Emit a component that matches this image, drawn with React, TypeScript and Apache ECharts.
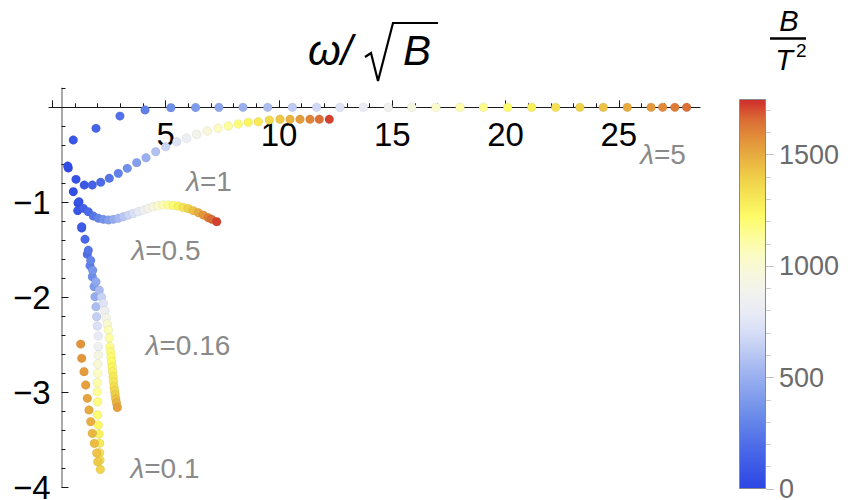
import React, { useEffect, useRef } from 'react';
import * as echarts from 'echarts';

const FONT = '"Liberation Sans", Arial, Helvetica, sans-serif';

// ---- data: x = ω/√B, y, v = B/T² ----
const X_L5 = [0.675, 0.922, 1.924, 2.98, 4.09, 5.23, 6.32, 7.35, 8.41, 9.5, 10.59, 11.66, 12.69, 13.72, 14.82, 15.86, 16.93, 17.99, 19.02, 20.09, 21.15, 22.21, 23.28, 24.31, 25.37, 26.42, 26.93, 27.47, 27.99];
const Y_L5 = [-0.618, -0.344, -0.221, -0.092, -0.028, -0.004, -0.002, -0.001, 0, 0, 0, 0, 0, 0, 0, 0, 0, 0, 0, 0, 0, 0, 0, 0, 0, 0, 0, 0, 0];
const V_L5 = [30, 80, 150, 220, 280, 340, 400, 450, 500, 560, 620, 680, 740, 800, 880, 950, 1030, 1100, 1160, 1220, 1280, 1330, 1390, 1440, 1500, 1550, 1590, 1620, 1650];

const X_L1 = [0.702, 1.041, 1.408, 1.761, 2.132, 2.511, 2.908, 3.305, 3.72, 4.131, 4.559, 5.0, 5.486, 5.927, 6.368, 6.836, 7.308, 7.763, 8.204, 8.645, 9.086, 9.572, 10.044, 10.486, 10.927, 11.368, 11.779, 12.22];
const Y_L1 = [-0.639, -0.758, -0.818, -0.818, -0.789, -0.747, -0.695, -0.642, -0.583, -0.531, -0.467, -0.415, -0.362, -0.326, -0.284, -0.249, -0.221, -0.197, -0.176, -0.158, -0.152, -0.134, -0.126, -0.126, -0.126, -0.126, -0.126, -0.126];
const V_L1 = [30, 60, 100, 140, 180, 230, 290, 350, 420, 500, 580, 660, 740, 820, 900, 980, 1060, 1130, 1190, 1250, 1300, 1360, 1420, 1480, 1540, 1600, 1650, 1720];

const X_L05 = [0.922, 1.117, 1.364, 1.584, 1.805, 2.026, 2.246, 2.467, 2.688, 2.908, 3.129, 3.35, 3.571, 3.791, 4.011, 4.232, 4.453, 4.673, 4.894, 5.115, 5.335, 5.556, 5.777, 5.997, 6.218, 6.439, 6.659, 6.88, 7.03, 7.251];
const Y_L05 = [-0.888, -1.088, -1.063, -1.099, -1.144, -1.168, -1.179, -1.186, -1.179, -1.168, -1.152, -1.134, -1.116, -1.099, -1.081, -1.063, -1.046, -1.036, -1.028, -1.028, -1.032, -1.039, -1.053, -1.067, -1.088, -1.109, -1.134, -1.162, -1.179, -1.204];
const V_L05 = [40, 80, 130, 180, 240, 300, 360, 420, 480, 540, 600, 660, 720, 780, 840, 900, 960, 1020, 1080, 1140, 1200, 1260, 1320, 1380, 1440, 1500, 1560, 1620, 1660, 1720];

const X_L016 = [1.174, 1.293, 1.439, 1.584, 1.69, 1.778, 1.924, 2.07, 2.167, 2.246, 2.321, 2.379, 2.423, 2.467, 2.507, 2.542, 2.568, 2.59, 2.613, 2.635, 2.657, 2.679, 2.701, 2.723, 2.745, 2.771, 2.798, 2.829, 2.864];
const Y_L016 = [-0.994, -1.257, -1.389, -1.505, -1.611, -1.716, -1.836, -1.924, -1.997, -2.063, -2.144, -2.218, -2.281, -2.344, -2.428, -2.52, -2.576, -2.628, -2.681, -2.734, -2.786, -2.839, -2.892, -2.944, -2.986, -3.028, -3.071, -3.113, -3.16];
const V_L016 = [60, 110, 170, 230, 300, 380, 470, 560, 650, 740, 830, 920, 1000, 1070, 1120, 1160, 1190, 1210, 1230, 1250, 1270, 1290, 1310, 1340, 1370, 1400, 1440, 1480, 1530];

const X_L01 = [1.13, 1.293, 1.54, 1.659, 1.761, 1.836, 1.88, 1.924, 1.955, 1.981, 2.026, 2.026, 2.026, 1.999, 1.999, 1.981, 1.981, 1.999, 1.999, 2.026, 2.056, 2.087, 2.087, 2.101, 2.114, 1.999, 1.955, 1.849, 1.761, 1.69, 1.615, 1.54, 1.47, 1.395, 1.293, 1.249];
const Y_L01 = [-1.007, -1.271, -1.547, -1.667, -1.783, -1.888, -1.994, -2.099, -2.204, -2.302, -2.408, -2.52, -2.608, -2.703, -2.8, -2.899, -2.994, -3.099, -3.238, -3.344, -3.439, -3.536, -3.636, -3.713, -3.811, -3.731, -3.639, -3.537, -3.432, -3.309, -3.186, -3.063, -2.923, -2.783, -2.642, -2.492];
const V_L01 = [50, 110, 200, 270, 340, 410, 480, 560, 640, 720, 790, 860, 930, 990, 1050, 1100, 1140, 1180, 1210, 1240, 1270, 1300, 1330, 1350, 1380, 1410, 1430, 1450, 1470, 1490, 1505, 1520, 1535, 1545, 1555, 1565];

const SERIES_NAMES = ['λ=0.1', 'λ=0.16', 'λ=0.5', 'λ=1', 'λ=5'];

// ---- axes / ticks ----
const X_MIN = -0.15;
const X_MAX = 28.58;
const Y_MIN = -4;
const Y_MAX = 0.2;
const X_MAJOR = [0, 5, 10, 15, 20, 25];
const X_LABELS = [5, 10, 15, 20, 25];
const X_MINOR = [1, 2, 3, 4, 6, 7, 8, 9, 11, 12, 13, 14, 16, 17, 18, 19, 21, 22, 23, 24, 26, 27, 28];
const Y_MAJOR = [-4, -3, -2, -1, 0];
const Y_LABELS = [-4, -3, -2, -1];
const Y_MINOR = [-3.8, -3.6, -3.4, -3.2, -2.8, -2.6, -2.4, -2.2, -1.8, -1.6, -1.4, -1.2, -0.8, -0.6, -0.4, -0.2, 0.2];

// ---- colour bar ----
const V_MIN = 0;
const V_MAX = 1750;
const CB_MAJOR = [0, 500, 1000, 1500];
const CB_MINOR = [100, 200, 300, 400, 600, 700, 800, 900, 1100, 1200, 1300, 1400, 1600, 1700];
const COLORS = [
  '#2c46e4', '#3a57e6', '#4a68e8', '#5c7ce9', '#7090ea', '#88a2ed', '#a0b4f0',
  '#bcc9f3', '#d6ddf6', '#e8ebf5', '#f1f2ef', '#f7f7de', '#fbfbc4', '#fdfd98',
  '#fdfb66', '#f6e656', '#efcf48', '#e8b040', '#e2903a', '#da6a34', '#d02c2c',
];

function zip(xs: number[], ys: number[], vs: number[]) {
  return xs.map((x, i) => [x, ys[i], vs[i]]);
}

// plot grid geometry (pixels)
const G_LEFT = 49;
const G_TOP = 88.3;
const G_W = 651;
const G_H = 399;
// pixel distance from the grid bottom up to y = 0
const X_AXIS_SHIFT = -(G_H * (0 - Y_MIN)) / (Y_MAX - Y_MIN);

export default function App() {
  const ref = useRef<HTMLDivElement>(null);

  useEffect(() => {
    document.body.style.margin = '0';
    if (!ref.current) return;
    const chart = echarts.init(ref.current, undefined, { renderer: 'svg' });

    const datasets = [
      zip(X_L01, Y_L01, V_L01),
      zip(X_L016, Y_L016, V_L016),
      zip(X_L05, Y_L05, V_L05),
      zip(X_L1, Y_L1, V_L1),
      zip(X_L5, Y_L5, V_L5),
    ];

    const gradient = new echarts.graphic.LinearGradient(
      0, 1, 0, 0,
      COLORS.map((c, i) => ({ offset: i / (COLORS.length - 1), color: c }))
    );

    const tickLine = { color: '#1a1a1a', width: 1 };
    const lamLabel = (text: string, x: number, y: number) => ({
      type: 'text',
      x,
      y,
      silent: true,
      style: {
        text: '{l|λ}{t|=' + text + '}',
        textAlign: 'center',
        textVerticalAlign: 'middle',
        fill: '#8a8a8a',
        fontSize: 28,
        fontFamily: FONT,
        rich: {
          l: { fontStyle: 'italic', fontSize: 28, fill: '#8a8a8a', fontFamily: FONT },
          t: { fontSize: 28, fill: '#8a8a8a', fontFamily: FONT },
        },
      },
    });

    const option: any = {
      animation: false,
      backgroundColor: '#ffffff',
      textStyle: { fontFamily: FONT },
      grid: [
        { left: G_LEFT, top: G_TOP, width: G_W, height: G_H, outerBoundsMode: 'none' },
        { left: 739, top: 99, width: 27, height: 390, outerBoundsMode: 'none' },
      ],
      xAxis: [
        {
          gridIndex: 0, type: 'value', min: X_MIN, max: X_MAX, position: 'bottom', offset: X_AXIS_SHIFT,
          axisLine: { show: true, onZero: false, lineStyle: tickLine },
          axisTick: { show: true, inside: true, length: 7, customValues: X_MAJOR, lineStyle: tickLine },
          axisLabel: { show: true, customValues: X_LABELS, fontSize: 33, color: '#000', margin: 11, fontFamily: FONT, formatter: (v: number) => String(v) },
          splitLine: { show: false },
        },
        {
          gridIndex: 0, type: 'value', min: X_MIN, max: X_MAX, position: 'bottom', offset: X_AXIS_SHIFT,
          axisLine: { show: false, onZero: false },
          axisTick: { show: true, inside: true, length: 4, customValues: X_MINOR, lineStyle: tickLine },
          axisLabel: { show: false },
          splitLine: { show: false },
        },
        { gridIndex: 1, type: 'category', data: ['cb'], show: false },
      ],
      yAxis: [
        {
          gridIndex: 0, type: 'value', min: Y_MIN, max: Y_MAX, position: 'left', offset: -12.5,
          axisLine: { show: true, onZero: false, lineStyle: { color: '#8c8c8c', width: 1.5 } },
          axisTick: { show: true, inside: true, length: 7, customValues: Y_MAJOR, lineStyle: tickLine },
          axisLabel: {
            show: true, customValues: Y_LABELS, fontSize: 33, color: '#000', margin: 11, fontFamily: FONT,
            formatter: (v: number) => (v < 0 ? '\u2212' + Math.abs(v) : String(v)),
          },
          splitLine: { show: false },
        },
        {
          gridIndex: 0, type: 'value', min: Y_MIN, max: Y_MAX, position: 'left', offset: -12.5,
          axisLine: { show: false, onZero: false },
          axisTick: { show: true, inside: true, length: 4, customValues: Y_MINOR, lineStyle: tickLine },
          axisLabel: { show: false },
          splitLine: { show: false },
        },
        {
          gridIndex: 1, type: 'value', min: V_MIN, max: V_MAX, position: 'right',
          axisLine: { show: false },
          axisTick: { show: true, inside: false, length: 8, customValues: CB_MAJOR, lineStyle: { color: '#c4c4c4', width: 1 } },
          axisLabel: { show: true, customValues: CB_MAJOR, fontSize: 27, color: '#6b6b6b', margin: 13, fontFamily: FONT, formatter: (v: number) => String(v) },
          splitLine: { show: false },
        },
        {
          gridIndex: 1, type: 'value', min: V_MIN, max: V_MAX, position: 'right',
          axisLine: { show: false },
          axisTick: { show: true, inside: false, length: 5, customValues: CB_MINOR, lineStyle: { color: '#cfcfcf', width: 1 } },
          axisLabel: { show: false },
          splitLine: { show: false },
        },
      ],
      visualMap: {
        type: 'continuous',
        show: false,
        min: V_MIN,
        max: V_MAX,
        dimension: 2,
        seriesIndex: [0, 1, 2, 3, 4],
        inRange: { color: COLORS },
      },
      series: [
        ...datasets.map((d, i) => ({
          name: SERIES_NAMES[i],
          type: 'scatter',
          xAxisIndex: 0,
          yAxisIndex: 0,
          symbolSize: 8.8,
          data: d,
          silent: true,
          itemStyle: { borderColor: 'rgba(0,0,0,0.12)', borderWidth: 0.5, opacity: 1 },
        })),
        {
          type: 'bar',
          xAxisIndex: 2,
          yAxisIndex: 2,
          data: [V_MAX],
          barWidth: '100%',
          silent: true,
          itemStyle: { color: gradient, borderColor: '#8a8a8a', borderWidth: 1 },
        },
      ],
      graphic: [
        { type: 'text', x: 308, y: 50, silent: true, style: { text: 'ω/', fontSize: 42, fontStyle: 'italic', fontFamily: FONT, fill: '#000', textAlign: 'left', textVerticalAlign: 'middle' } },
        { type: 'polyline', silent: true, shape: { points: [[365, 57], [371, 53], [378, 81], [393, 23], [438, 23]] }, style: { stroke: '#000', lineWidth: 2.2, fill: null } },
        { type: 'text', x: 403, y: 50, silent: true, style: { text: 'B', fontSize: 42, fontStyle: 'italic', fontFamily: FONT, fill: '#000', textAlign: 'left', textVerticalAlign: 'middle' } },
        { type: 'text', x: 789, y: 21, silent: true, style: { text: 'B', fontSize: 29, fontStyle: 'italic', fontFamily: FONT, fill: '#000', textAlign: 'center', textVerticalAlign: 'middle' } },
        { type: 'line', silent: true, shape: { x1: 770, y1: 38.5, x2: 806, y2: 38.5 }, style: { stroke: '#000', lineWidth: 2.4 } },
        { type: 'text', x: 784, y: 60, silent: true, style: { text: 'T', fontSize: 29, fontStyle: 'italic', fontFamily: FONT, fill: '#000', textAlign: 'center', textVerticalAlign: 'middle' } },
        { type: 'text', x: 796, y: 50, silent: true, style: { text: '2', fontSize: 19, fontFamily: FONT, fill: '#000', textAlign: 'left', textVerticalAlign: 'middle' } },
        lamLabel('5', 663, 154),
        lamLabel('1', 209, 181),
        lamLabel('0.5', 166, 250),
        lamLabel('0.16', 188, 345),
        lamLabel('0.1', 165, 468),
      ],
    };

    chart.setOption(option);
    return () => chart.dispose();
  }, []);

  return <div ref={ref} style={{ width: 850, height: 500 }} />;
}
